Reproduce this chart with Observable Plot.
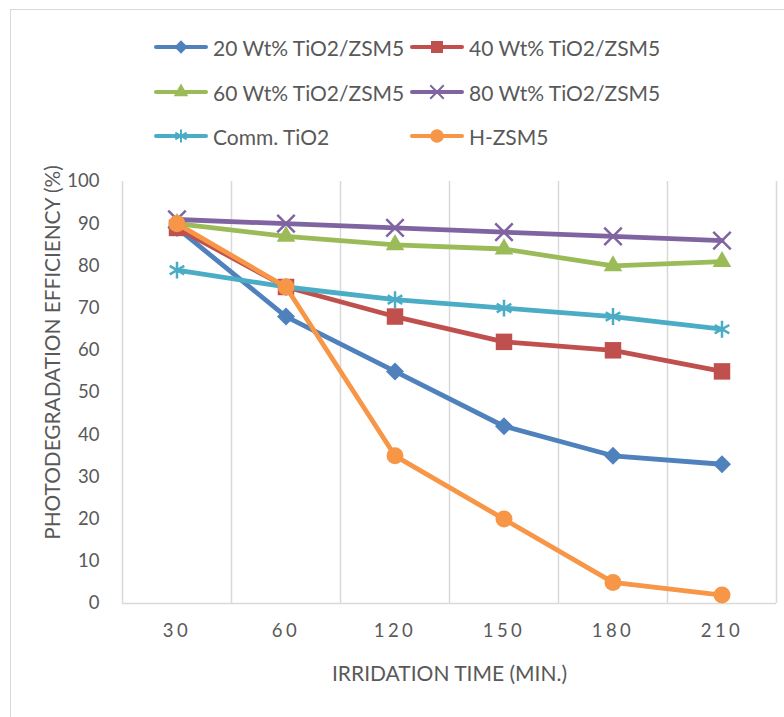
<!DOCTYPE html>
<html><head><meta charset="utf-8">
<script src="https://cdn.jsdelivr.net/npm/d3@7"></script>
<script src="https://cdn.jsdelivr.net/npm/@observablehq/plot@0.6"></script>
<style>
body{margin:0;background:#fff;overflow:hidden;font-family:Lato,sans-serif;}
#wrap{position:relative;width:784px;height:717px;overflow:hidden;background:#fff;}
#frame{position:absolute;left:10px;top:9px;width:820px;height:820px;border:1.5px solid #d9d9d9;box-sizing:border-box;}
.leg{position:absolute;display:flex;align-items:center;height:30px;font-size:21px;color:#595959;white-space:nowrap;}
.leg svg{margin-right:5px;}
#chart{position:absolute;left:0;top:170px;}
#chart g[aria-label="x-axis tick label"] text{letter-spacing:3.5px;}
</style></head><body><div id="wrap"><div id="frame"></div><div id="legend"></div><div id="chart"></div></div>
<script>
const times = ["30", "60", "120", "150", "180", "210"];
const yTicks = [0, 10, 20, 30, 40, 50, 60, 70, 80, 90, 100];
const seriesNames = ["20 Wt% TiO2/ZSM5", "40 Wt% TiO2/ZSM5", "60 Wt% TiO2/ZSM5", "80 Wt% TiO2/ZSM5", "Comm. TiO2", "H-ZSM5"];
const wt20 = [89, 68, 55, 42, 35, 33];
const wt40 = [89, 75, 68, 62, 60, 55];
const wt60 = [90, 87, 85, 84, 80, 81];
const wt80 = [91, 90, 89, 88, 87, 86];
const commTiO2 = [79, 75, 72, 70, 68, 65];
const hzsm5 = [90, 75, 35, 20, 5, 2];
const xTitle = "IRRIDATION TIME (MIN.)";
const yTitle = "PHOTODEGRADATION EFFICIENCY (%)";

const seriesValues = [wt20, wt40, wt60, wt80, commTiO2, hzsm5];
const colors = ["#4F81BD", "#C0504D", "#9BBB59", "#8064A2", "#4BACC6", "#F79646"];
const symbols = ["diamond2", "square", "triangle", "times", "asterisk", "circle"];
const d3symbols = [d3.symbolDiamond2, d3.symbolSquare, d3.symbolTriangle, d3.symbolTimes, d3.symbolAsterisk, d3.symbolCircle];
const stroked = [false, false, false, true, true, false];
const radii = [8.1, 9.3, 6.9, 8, 8, 8.5];
const legR = [6, 6.8, 5.4, 6.2, 6.2, 6.8];

// Legend (HTML)
const legend = document.getElementById("legend");
const legPos = [[154, 47], [410, 47], [154, 92], [410, 92], [154, 136], [410, 136]];
seriesNames.forEach((name, i) => {
  const div = document.createElement("div");
  div.className = "leg";
  div.style.left = legPos[i][0] + "px";
  div.style.top = (legPos[i][1] - 15) + "px";
  const size = Math.PI * legR[i] * legR[i];
  const path = d3.symbol(d3symbols[i], size)();
  const fill = stroked[i] ? "none" : colors[i];
  const stroke = stroked[i] ? colors[i] : "none";
  div.innerHTML = `<svg width="54" height="30"><line x1="2" x2="52" y1="15" y2="15" stroke="${colors[i]}" stroke-width="4" stroke-linecap="round"/><path d="${path}" transform="translate(27,15)" fill="${fill}" stroke="${stroke}" stroke-width="2"/></svg><span>${name}</span>`;
  legend.appendChild(div);
});

// Chart
const marks = [
  Plot.ruleX(d3.range(0, times.length + 1), {y1: 0, y2: 100, stroke: "#d9d9d9", strokeWidth: 1.5}),
  Plot.ruleY([0], {stroke: "#d9d9d9", strokeWidth: 1.5}),
  Plot.axisY(yTicks, {tickSize: 0, tickPadding: 23, label: null, fontSize: 18.5}),
  Plot.axisX(times.map((_, i) => i + 0.5), {tickSize: 0, tickPadding: 20, label: null, fontSize: 18.5, tickFormat: d => times[Math.floor(d)]}),
  Plot.text([xTitle], {text: d => d, frameAnchor: "bottom", dy: 77, fontSize: 21, fill: "#595959"}),
  Plot.text([yTitle], {text: d => d, frameAnchor: "left", textAnchor: "middle", rotate: -90, dx: -69, dy: -40, fontSize: 20.8, fill: "#595959"})
];
seriesValues.forEach((vals, si) => {
  const data = vals.map((v, i) => ({x: i + 0.5, v}));
  marks.push(Plot.line(data, {x: "x", y: "v", stroke: colors[si], strokeWidth: 4.8, strokeLinejoin: "round", strokeLinecap: "round"}));
  marks.push(Plot.dot(data, {
    x: "x", y: "v", symbol: () => symbols[si], r: radii[si],
    fill: stroked[si] ? "none" : colors[si],
    stroke: stroked[si] ? colors[si] : "none",
    strokeWidth: 2.5
  }));
});

const chart = Plot.plot({
  width: 784,
  height: 547,
  marginLeft: 122,
  marginRight: 8,
  marginTop: 11,
  marginBottom: 114,
  x: {domain: [0, times.length], axis: null},
  y: {domain: [0, 100], axis: null},
  symbol: {type: "identity"},
  style: {fontFamily: "Lato, sans-serif", fontSize: "18px", color: "#595959", background: "transparent", overflow: "visible"},
  marks
});
document.getElementById("chart").appendChild(chart);
</script>
</body></html>
